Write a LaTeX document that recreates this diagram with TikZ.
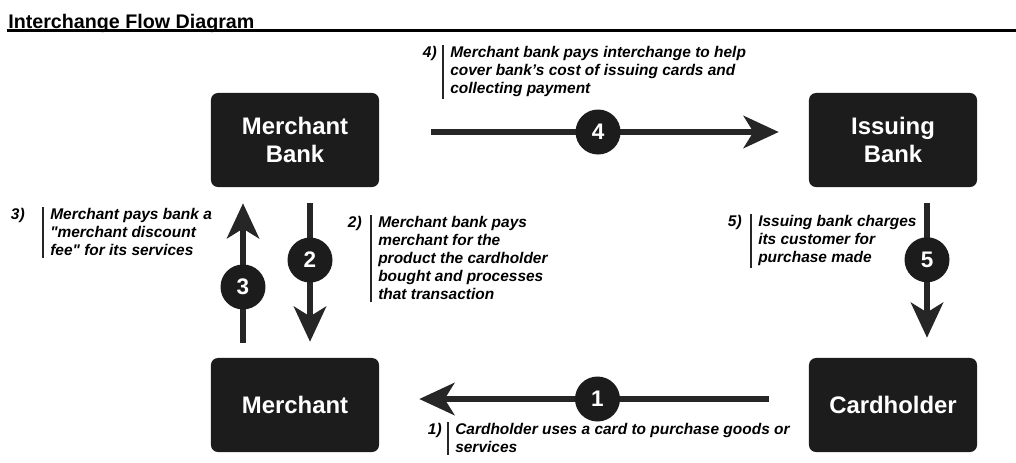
\documentclass[tikz,border=0pt]{standalone}
\usepackage{fontspec}
\setmainfont{Liberation Sans}
\usetikzlibrary{calc,arrows.meta}
\definecolor{boxgray}{HTML}{1C1C1C}
\definecolor{flowgray}{HTML}{262626}
\begin{document}
\begin{tikzpicture}[x=0.025cm,y=-0.025cm,
  box/.style={fill=boxgray, text=white, rounded corners=5pt, minimum width=4.2cm, minimum height=2.35cm, align=center, font=\bfseries\fontsize{17}{20}\selectfont},
  flow/.style={line width=3.8pt, draw=flowgray, -{Stealth[length=25pt,width=23pt,inset=7pt]}},
  numdot/.style={circle, fill=boxgray, text=white, minimum size=32pt, inner sep=0pt, font=\bfseries\fontsize{16}{16}\selectfont},
  note/.style={anchor=north west, align=left, inner sep=0pt, font=\bfseries\itshape\fontsize{11}{12.8}\selectfont},
  tag/.style={anchor=north east, inner sep=0pt, font=\bfseries\itshape\fontsize{11}{12.8}\selectfont},
  notebar/.style={line width=2pt, draw=flowgray}]
\useasboundingbox (0,0) rectangle (1016,462);

\node[anchor=base west, inner sep=0pt, font=\bfseries\fontsize{14}{16}\selectfont] (title) at (8,28) {Interchange Flow Diagram};
\draw[line width=1.8pt] ($(title.base west)+(-1,2.5)$) -- ++(1009,0);

% the four parties
\node[box] (mbank) at (295,140) {Merchant\\Bank};
\node[box] (ibank) at (893,140) {Issuing\\Bank};
\node[box] (merch) at (295,405) {Merchant};
\node[box] (card) at (893,405) {Cardholder};

% flows
\draw[flow] ($(card.west)+(-40,-6)$) -- ($(merch.east)+(40,-6)$) node[numdot, pos=0.49] (c1) {1};
\draw[flow] ($(mbank.south)+(15,16)$) -- ($(merch.north)+(15,-16)$) node[numdot, pos=0.41] (c2) {2};
\draw[flow] ($(merch.north)+(-52,-15)$) -- ($(mbank.south)+(-52,16)$) node[numdot, pos=0.4] (c3) {3};
\draw[flow] ($(mbank.east)+(52,-8)$) -- ($(ibank.west)+(-30,-8)$) node[numdot, pos=0.48] (c4) {4};
\draw[flow] ($(ibank.south)+(34,16)$) -- ($(card.north)+(34,-20)$) node[numdot, pos=0.42] (c5) {5};

% notes
\node[note] (n1) at (455,423) {Cardholder uses a card to purchase goods or\\services};
\node[note] (n2) at (378,216) {Merchant bank pays\\merchant for the\\product the cardholder\\bought and processes\\that transaction};
\node[note] (n3) at (50,208) {Merchant pays bank a\\\textquotedbl merchant discount\\fee\textquotedbl{} for its services};
\node[note] (n4) at (450,46) {Merchant bank pays interchange to help\\cover bank's cost of issuing cards and\\collecting payment};
\node[note] (n5) at (758,215) {Issuing bank charges\\its customer for\\purchase made};

\foreach \n/\gap in {1/13, 2/16, 3/25, 4/13, 5/16}{
  \node[tag] (t\n) at ($(n\n.north west)+(-\gap,0)$) {\n)};
  \draw[notebar] ($(n\n.north west)+(-7,-1)$) -- ($(n\n.south west)+(-7,2)$);
}
\end{tikzpicture}
\end{document}
